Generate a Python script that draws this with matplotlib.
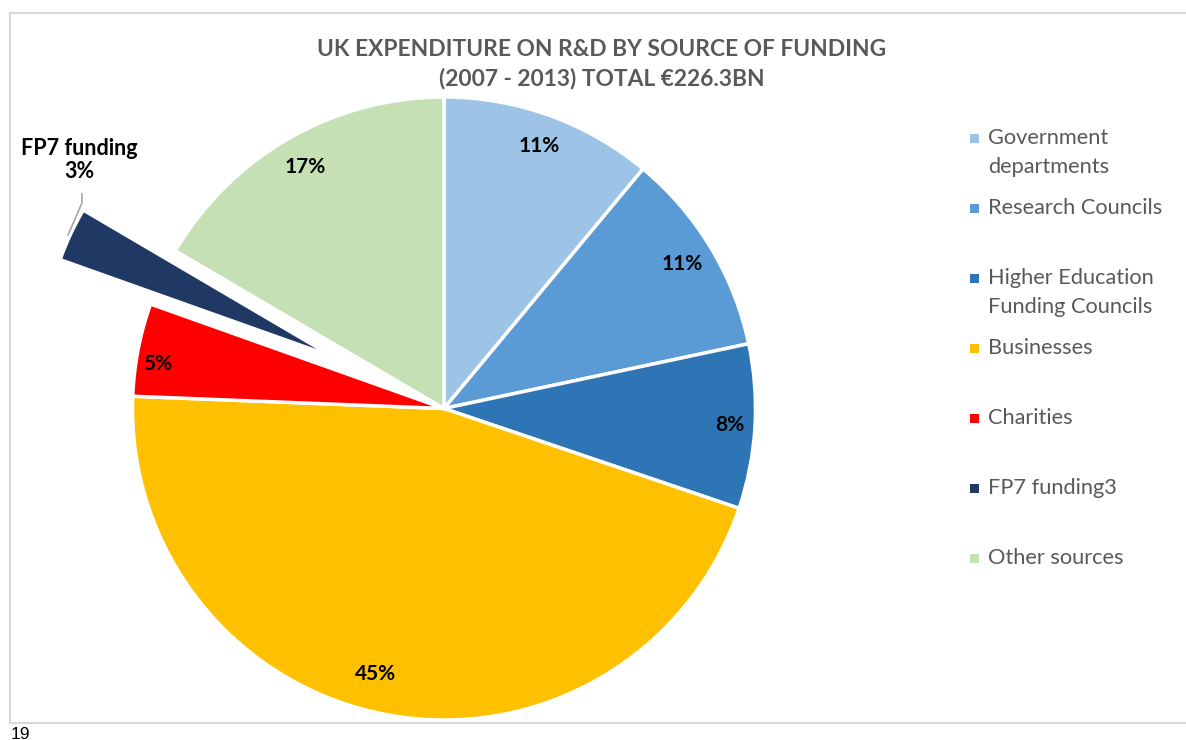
import matplotlib
matplotlib.use("Agg")
import matplotlib.pyplot as plt
from matplotlib.patches import Rectangle
import numpy as np

# ---- data ----
categories = ["Government departments", "Research Councils",
              "Higher Education Funding Councils", "Businesses",
              "Charities", "FP7 funding3", "Other sources"]
legend_labels = ["Government\ndepartments", "Research Councils",
                 "Higher Education\nFunding Councils", "Businesses",
                 "Charities", "FP7 funding3", "Other sources"]
shares = [11.0, 10.6, 8.5, 45.3, 4.8, 3.0, 16.5]
pct_labels = ["11%", "11%", "8%", "45%", "5%", "3%", "17%"]
colors = ["#9DC3E6", "#5B9BD5", "#2E75B6", "#FFC000", "#FF0000", "#203864", "#C5E0B4"]
explode_idx = 5
title = "UK EXPENDITURE ON R&D BY SOURCE OF FUNDING\n(2007 - 2013) TOTAL €226.3BN"

W, H = 1186, 740
fig = plt.figure(figsize=(W / 100, H / 100), dpi=100)
ax = fig.add_axes([0, 0, 1, 1])
ax.set_xlim(0, W)
ax.set_ylim(0, H)
ax.set_aspect("equal")
ax.axis("off")

FONT = "Lato"

# chart border (top, left, bottom; right side runs off the picture)
ax.plot([W + 5, 9.5, 9.5, W + 5], [H - 12.5, H - 12.5, H - 722.5, H - 722.5],
        color="#D9D9D9", lw=1.5, solid_joinstyle="miter", clip_on=False)

cx, cy, R = 444, H - 408.5, 311.5
explode = [0.0] * len(shares)
explode[explode_idx] = 0.392 * R
wedges, _ = ax.pie(shares, colors=colors, startangle=90, counterclock=False,
                   radius=R, center=(cx, cy), explode=explode,
                   wedgeprops=dict(edgecolor="white", linewidth=2.5))
wedges[explode_idx].set_radius(290)
ax.set_xlim(0, W)
ax.set_ylim(0, H)

label_dist = [0.895, 0.895, 0.92, 0.88, 0.93, 0.9, 0.895]
label_shift = [0, 0, 0, -4, 2, 0, 0]  # degrees
for i, w in enumerate(wedges):
    if i == explode_idx:
        continue
    mid = np.deg2rad((w.theta1 + w.theta2) / 2 + label_shift[i])
    d = label_dist[i] * R
    ax.text(cx + d * np.cos(mid), cy + d * np.sin(mid), pct_labels[i],
            ha="center", va="center", fontsize=15, fontweight="bold",
            family=FONT, color="black")

# FP7 outside label with leader line
ax.text(79, H - 160, "FP7 funding\n" + pct_labels[explode_idx], ha="center",
        va="center", fontsize=15.5, fontweight="bold", family=FONT,
        color="black", linespacing=1.12)
ax.plot([82, 82, 68], [H - 194, H - 203, H - 235], color="#A6A6A6", lw=1.2)

# title
fig.text(602 / W, 1 - 64 / H, title, ha="center", va="center",
         fontsize=16.4, fontweight="bold", family=FONT, color="#595959",
         linespacing=1.4)

# legend
leg_y = [138, 208, 278, 348, 418, 488, 558]
for lab, col, y in zip(legend_labels, colors, leg_y):
    ax.add_patch(Rectangle((970, H - y - 4.5), 9, 9, facecolor=col, edgecolor="none"))
    nlines = lab.count("\n")
    ax.text(988, H - y - 14.5 * nlines, lab, ha="left", va="center",
            fontsize=15.7, family=FONT, color="#595959", linespacing=1.52)

# page number
fig.text(11 / W, 1 - 727 / H, "19", ha="left", va="top", fontsize=12.5,
         family="Liberation Sans", color="black")

fig.savefig("out.png", dpi=100)
